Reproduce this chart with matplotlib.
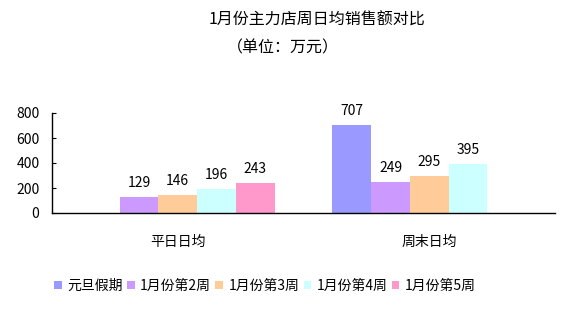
import matplotlib
matplotlib.use("Agg")
import matplotlib.pyplot as plt
import numpy as np

plt.rcParams['font.family'] = ['Noto Sans CJK SC', 'DejaVu Sans']

# data
categories = ["平日日均", "周末日均"]
series_names = ["元旦假期", "1月份第2周", "1月份第3周", "1月份第4周", "1月份第5周"]
# None = no bar for that week in that group
weekday_vals = [None, 129, 146, 196, 243]
weekend_vals = [707, 249, 295, 395, None]
colors = ["#9999FF", "#CC99FF", "#FFCC99", "#CCFFFF", "#FF99CC"]
yticks = [0, 200, 400, 600, 800]

fig = plt.figure(figsize=(5.64, 3.14), dpi=100)
ax = fig.add_axes([52/564, 1-213/314, (555-52)/564, 100/314])

x = np.arange(len(categories))
width = 0.154
for i, name in enumerate(series_names):
    vals = [weekday_vals[i], weekend_vals[i]]
    pos = x + (i - 2) * width
    xs = [p for p, v in zip(pos, vals) if v is not None]
    hs = [v for v in vals if v is not None]
    bars = ax.bar(xs, hs, width=width, color=colors[i], label=name, linewidth=0)
    for b, h in zip(bars, hs):
        ax.annotate(str(h), (b.get_x() + b.get_width()/2, h),
                    xytext=(0, 10), textcoords="offset points",
                    ha="center", va="center", fontsize=10, annotation_clip=False)

ax.set_xlim(-0.5, 1.5)
ax.set_ylim(0, 800)
ax.set_yticks(yticks)
ax.set_xticks(x)
ax.set_xticklabels(categories, fontsize=10)
ax.tick_params(axis='x', length=0, pad=16)
ax.tick_params(axis='y', direction='in', length=3, pad=9, labelsize=10)
for s in ["top", "right"]:
    ax.spines[s].set_visible(False)
for s in ["left", "bottom"]:
    ax.spines[s].set_color("black")
    ax.spines[s].set_linewidth(1)

fig.text(317/564, 1-20/314, "1月份主力店周日均销售额对比", ha="center", va="center", fontsize=11.5)
fig.text(283/564, 1-48/314, "（单位：万元）", ha="center", va="center", fontsize=11.5)

fig.legend(loc="center", bbox_to_anchor=(265/564, 1-286/314), ncol=5, frameon=False,
           fontsize=10, handlelength=0.55, handleheight=0.55, handletextpad=0.4,
           columnspacing=0.3, borderaxespad=0)

fig.savefig("out.png", dpi=100)
